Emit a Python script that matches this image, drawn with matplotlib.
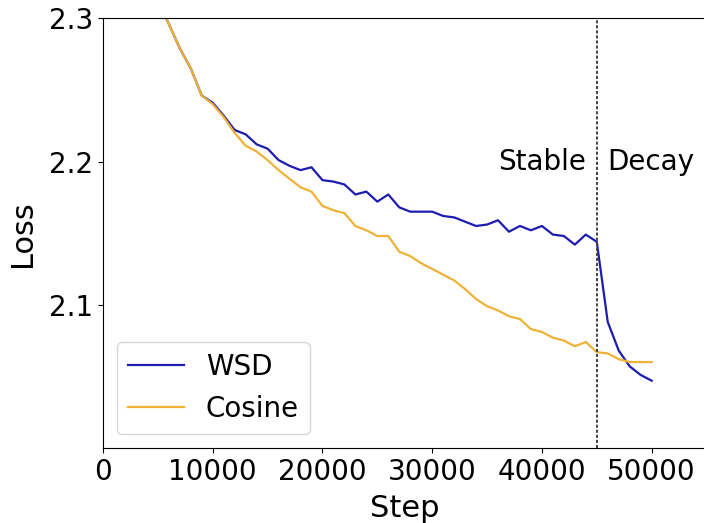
import matplotlib
matplotlib.use("Agg")
import matplotlib.pyplot as plt

steps = list(range(5000, 50001, 1000))
wsd = [2.312, 2.296, 2.279, 2.265, 2.246, 2.241, 2.232, 2.222, 2.219, 2.212,
       2.209, 2.201, 2.197, 2.194, 2.196, 2.187, 2.186, 2.184, 2.177, 2.179,
       2.172, 2.177, 2.168, 2.165, 2.165, 2.165, 2.162, 2.161, 2.158, 2.155,
       2.156, 2.159, 2.151, 2.155, 2.152, 2.155, 2.149, 2.148, 2.142, 2.149,
       2.144, 2.088, 2.068, 2.057, 2.051, 2.047]
cosine = [2.312, 2.296, 2.279, 2.265, 2.246, 2.240, 2.231, 2.220, 2.211, 2.207,
          2.201, 2.194, 2.188, 2.182, 2.179, 2.169, 2.166, 2.164, 2.155, 2.152,
          2.148, 2.148, 2.137, 2.134, 2.129, 2.125, 2.121, 2.117, 2.111, 2.104,
          2.099, 2.096, 2.092, 2.090, 2.083, 2.081, 2.077, 2.075, 2.071, 2.074,
          2.067, 2.066, 2.062, 2.060, 2.060, 2.060]
series_names = ["WSD", "Cosine"]
switch_step = 45000
phase_labels = ["Stable", "Decay"]
xticks = [0, 10000, 20000, 30000, 40000, 50000]
yticks = [2.1, 2.2, 2.3]

plt.rcParams['font.family'] = ['DejaVu Sans']
fig = plt.figure(figsize=(7.04, 5.23), dpi=100)
ax = fig.add_axes([103/704, (523-448)/523, (706.5-103)/704, (448-18.3)/523])

ax.plot(steps, wsd, color='#1c1cb0', lw=1.6, label=series_names[0])
ax.plot(steps, cosine, color='#f0b236', lw=1.6, label=series_names[1])
ax.axvline(switch_step, color='#444444', lw=1.4, ls=(0, (1.6, 1.0)))

ax.text(switch_step - 1000, 2.2, phase_labels[0], ha='right', va='center', fontsize=20)
ax.text(switch_step + 1000, 2.2, phase_labels[1], ha='left', va='center', fontsize=20)

ax.set_xlim(0, 55000)
ax.set_ylim(2.0, 2.3)
ax.set_xticks(xticks)
ax.set_xticklabels([str(v) for v in xticks])
ax.set_yticks(yticks)
ax.tick_params(labelsize=20)
ax.set_xlabel("Step", fontsize=22, labelpad=6)
ax.set_ylabel("Loss", fontsize=22, labelpad=9)
ax.legend(loc='lower left', fontsize=20)

fig.savefig("out.png", dpi=100)
